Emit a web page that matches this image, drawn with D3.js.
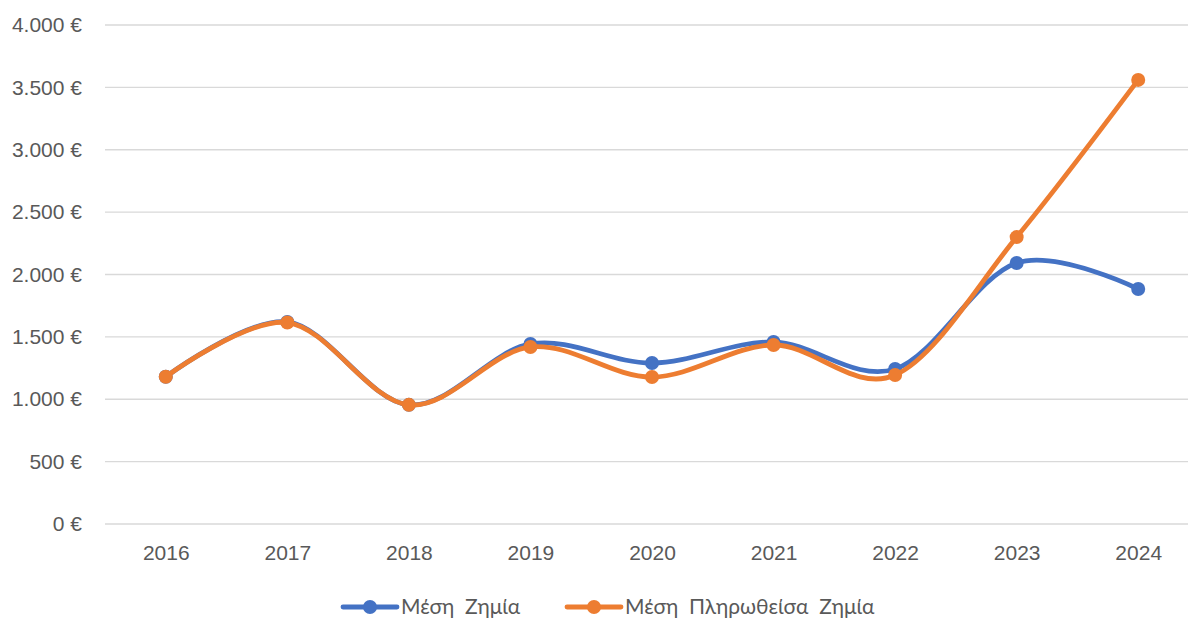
<!DOCTYPE html>
<html><head><meta charset="utf-8">
<script src="https://cdn.jsdelivr.net/npm/d3@7"></script>
<style>body{margin:0;background:#fff;}svg{display:block;font-family:Lato,"Open Sans",sans-serif;}</style>
</head><body>
<svg id="c" width="1189" height="619"></svg>
<script>
const years = ["2016","2017","2018","2019","2020","2021","2022","2023","2024"];
const avgLoss = [1180, 1620, 955, 1443, 1290, 1459, 1242, 2092, 1884];
const avgPaidLoss = [1180, 1615, 955, 1419, 1178, 1435, 1194, 2300, 3560];
const yTicks = [0, 500, 1000, 1500, 2000, 2500, 3000, 3500, 4000];
const seriesNames = ["Μέση  Ζημία", "Μέση  Πληρωθείσα  Ζημία"];
const colors = ["#4472C4", "#ED7D31"];

(function () {
const svg = d3.select("#c");
const mLeft = 105, mRight = 1199, gridRight = 1188, mTop = 25, mBottom = 524;
const fs = 21;
const x = d3.scalePoint().domain(years).range([mLeft, mRight]).padding(0.5);
const y = d3.scaleLinear().domain([0, 4000]).range([mBottom, mTop]);
const fmt = v => (v === 0 ? "0" : d3.format(",")(v).replace(/,/g, ".")) + " €";

svg.append("g").selectAll("line").data(yTicks).join("line")
  .attr("x1", mLeft).attr("x2", gridRight)
  .attr("y1", d => y(d)).attr("y2", d => y(d))
  .attr("stroke", "#d9d9d9").attr("stroke-width", 1.3);

const yAxis = svg.append("g").attr("transform", `translate(${mLeft},0)`)
  .call(d3.axisLeft(y).tickValues(yTicks).tickFormat(fmt).tickSize(0).tickPadding(23));
yAxis.select(".domain").remove();
yAxis.selectAll("text").attr("fill", "#595959").attr("font-size", fs);

const xAxis = svg.append("g").attr("transform", `translate(0,${mBottom})`)
  .call(d3.axisBottom(x).tickSize(0).tickPadding(21));
xAxis.select(".domain").remove();
xAxis.selectAll("text").attr("fill", "#595959").attr("font-size", fs);

const data = [avgLoss, avgPaidLoss];
const line = d3.line().x((d, i) => x(years[i])).y(d => y(d)).curve(d3.curveCatmullRom.alpha(0));
data.forEach((s, k) => {
  const g = svg.append("g");
  g.append("path").datum(s).attr("d", line).attr("fill", "none")
    .attr("stroke", colors[k]).attr("stroke-width", 4.8).attr("stroke-linecap", "round");
  g.selectAll("circle").data(s).join("circle")
    .attr("cx", (d, i) => x(years[i])).attr("cy", d => y(d)).attr("r", 7)
    .attr("fill", colors[k]);
});

const legendPos = [343, 567];
const lg = svg.append("g");
seriesNames.forEach((n, k) => {
  const x0 = legendPos[k];
  lg.append("line").attr("x1", x0).attr("x2", x0 + 54).attr("y1", 607).attr("y2", 607)
    .attr("stroke", colors[k]).attr("stroke-width", 4.8).attr("stroke-linecap", "round");
  lg.append("circle").attr("cx", x0 + 27).attr("cy", 607).attr("r", 7).attr("fill", colors[k]);
  lg.append("text").attr("x", x0 + 58).attr("y", 607).attr("dy", "0.35em")
    .attr("fill", "#595959").attr("font-size", fs).style("white-space", "pre").text(n);
});
})();
</script>
</body></html>
